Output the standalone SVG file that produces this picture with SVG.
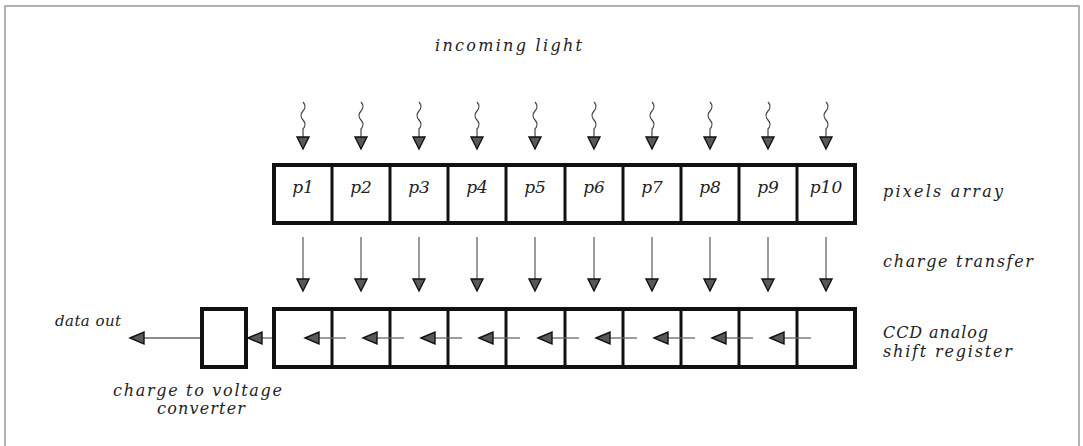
<svg xmlns="http://www.w3.org/2000/svg" xmlns:xlink="http://www.w3.org/1999/xlink" width="1083" height="446" viewBox="0 0 1083 446">
<style>
.frame{fill:none;stroke:#9a9a9a;stroke-width:1.5}
.box{fill:#fff;stroke:#111;stroke-width:4}
.div{stroke:#111;stroke-width:3}
.lbl{font-family:"DejaVu Serif","Liberation Serif",serif;font-style:italic;font-size:16px;fill:#222}
.sm{font-size:15px}
.pl{font-family:"DejaVu Serif","Liberation Serif",serif;font-style:italic;font-size:17px;fill:#222;text-anchor:middle}
.wave{fill:none;stroke:#444;stroke-width:1.2}
.ln{stroke:#666;stroke-width:1.3}
.ah{fill:#585858;stroke:#111;stroke-width:1.4;stroke-linejoin:miter}
</style>
<defs>
<path id="wv" class="wave" d="M0,102 q4,4.5 0,9 t0,9 t0,9 l0,8"/>
<polygon id="ahd" class="ah" points="-6,0 6,0 0,12"/>
<polygon id="ahl" class="ah" points="0,0 14,-6 14,6"/>
</defs>
<path class="frame" d="M5,446 L5,6 L1079,6 L1079,446"/>

<g id="incoming-light-label"><text class="lbl" x="435" y="51" textLength="147" lengthAdjust="spacing">incoming light</text></g>

<g id="pixels-array">
<rect class="box" x="274" y="165" width="581" height="58"/>
<g class="div">
<line x1="332" y1="165" x2="332" y2="223"/><line x1="390" y1="165" x2="390" y2="223"/><line x1="448" y1="165" x2="448" y2="223"/><line x1="506" y1="165" x2="506" y2="223"/><line x1="565" y1="165" x2="565" y2="223"/><line x1="623" y1="165" x2="623" y2="223"/><line x1="681" y1="165" x2="681" y2="223"/><line x1="739" y1="165" x2="739" y2="223"/><line x1="797" y1="165" x2="797" y2="223"/>
</g>
<text class="pl" x="303" y="193">p1</text><text class="pl" x="361" y="193">p2</text><text class="pl" x="419" y="193">p3</text><text class="pl" x="477" y="193">p4</text><text class="pl" x="535" y="193">p5</text><text class="pl" x="594" y="193">p6</text><text class="pl" x="652" y="193">p7</text><text class="pl" x="710" y="193">p8</text><text class="pl" x="768" y="193">p9</text><text class="pl" x="826" y="193">p10</text>
</g>
<g id="pixels-array-label"><text class="lbl" x="883" y="197" textLength="120" lengthAdjust="spacing">pixels array</text></g>
<g id="charge-transfer-label"><text class="lbl" x="883" y="267" textLength="150" lengthAdjust="spacing">charge transfer</text></g>

<g id="shift-register">
<rect class="box" x="274" y="309" width="581" height="58"/>
<g class="div">
<line x1="332" y1="309" x2="332" y2="367"/><line x1="390" y1="309" x2="390" y2="367"/><line x1="448" y1="309" x2="448" y2="367"/><line x1="506" y1="309" x2="506" y2="367"/><line x1="565" y1="309" x2="565" y2="367"/><line x1="623" y1="309" x2="623" y2="367"/><line x1="681" y1="309" x2="681" y2="367"/><line x1="739" y1="309" x2="739" y2="367"/><line x1="797" y1="309" x2="797" y2="367"/>
</g>
</g>
<g id="shift-register-label"><text class="lbl" x="883" y="338" textLength="105" lengthAdjust="spacing">CCD analog</text><text class="lbl" x="883" y="357" textLength="129" lengthAdjust="spacing">shift register</text></g>

<g id="converter"><rect class="box" x="202" y="309" width="44" height="58"/></g>
<g id="converter-label"><text class="lbl" x="113" y="396" textLength="169" lengthAdjust="spacing">charge to voltage</text><text class="lbl" x="157" y="414" textLength="88" lengthAdjust="spacing">converter</text></g>
<g id="data-out-label"><text class="lbl sm" x="55" y="326" textLength="66" lengthAdjust="spacing">data out</text></g>

<g id="connectors">
<g id="light-arrows">
<use xlink:href="#wv" x="303"/><use xlink:href="#ahd" x="303" y="137"/>
<use xlink:href="#wv" x="361"/><use xlink:href="#ahd" x="361" y="137"/>
<use xlink:href="#wv" x="419"/><use xlink:href="#ahd" x="419" y="137"/>
<use xlink:href="#wv" x="477"/><use xlink:href="#ahd" x="477" y="137"/>
<use xlink:href="#wv" x="535"/><use xlink:href="#ahd" x="535" y="137"/>
<use xlink:href="#wv" x="594"/><use xlink:href="#ahd" x="594" y="137"/>
<use xlink:href="#wv" x="652"/><use xlink:href="#ahd" x="652" y="137"/>
<use xlink:href="#wv" x="710"/><use xlink:href="#ahd" x="710" y="137"/>
<use xlink:href="#wv" x="768"/><use xlink:href="#ahd" x="768" y="137"/>
<use xlink:href="#wv" x="826"/><use xlink:href="#ahd" x="826" y="137"/>
</g>
<g id="transfer-arrows">
<line class="ln" x1="303" y1="237" x2="303" y2="280"/><use xlink:href="#ahd" x="303" y="279"/>
<line class="ln" x1="361" y1="237" x2="361" y2="280"/><use xlink:href="#ahd" x="361" y="279"/>
<line class="ln" x1="419" y1="237" x2="419" y2="280"/><use xlink:href="#ahd" x="419" y="279"/>
<line class="ln" x1="477" y1="237" x2="477" y2="280"/><use xlink:href="#ahd" x="477" y="279"/>
<line class="ln" x1="535" y1="237" x2="535" y2="280"/><use xlink:href="#ahd" x="535" y="279"/>
<line class="ln" x1="594" y1="237" x2="594" y2="280"/><use xlink:href="#ahd" x="594" y="279"/>
<line class="ln" x1="652" y1="237" x2="652" y2="280"/><use xlink:href="#ahd" x="652" y="279"/>
<line class="ln" x1="710" y1="237" x2="710" y2="280"/><use xlink:href="#ahd" x="710" y="279"/>
<line class="ln" x1="768" y1="237" x2="768" y2="280"/><use xlink:href="#ahd" x="768" y="279"/>
<line class="ln" x1="826" y1="237" x2="826" y2="280"/><use xlink:href="#ahd" x="826" y="279"/>
</g>
<g id="shift-arrows">
<line class="ln" x1="346" y1="338" x2="315" y2="338"/><use xlink:href="#ahl" x="305" y="338"/>
<line class="ln" x1="404" y1="338" x2="373" y2="338"/><use xlink:href="#ahl" x="363" y="338"/>
<line class="ln" x1="462" y1="338" x2="431" y2="338"/><use xlink:href="#ahl" x="421" y="338"/>
<line class="ln" x1="520" y1="338" x2="489" y2="338"/><use xlink:href="#ahl" x="479" y="338"/>
<line class="ln" x1="579" y1="338" x2="548" y2="338"/><use xlink:href="#ahl" x="538" y="338"/>
<line class="ln" x1="637" y1="338" x2="606" y2="338"/><use xlink:href="#ahl" x="596" y="338"/>
<line class="ln" x1="695" y1="338" x2="664" y2="338"/><use xlink:href="#ahl" x="654" y="338"/>
<line class="ln" x1="753" y1="338" x2="722" y2="338"/><use xlink:href="#ahl" x="712" y="338"/>
<line class="ln" x1="811" y1="338" x2="780" y2="338"/><use xlink:href="#ahl" x="770" y="338"/>
<line class="ln" x1="272" y1="338" x2="258" y2="338"/><use xlink:href="#ahl" x="248" y="338"/>
<line class="ln" x1="200" y1="338" x2="140" y2="338"/><use xlink:href="#ahl" x="130" y="338"/>
</g>
</g>
</svg>
